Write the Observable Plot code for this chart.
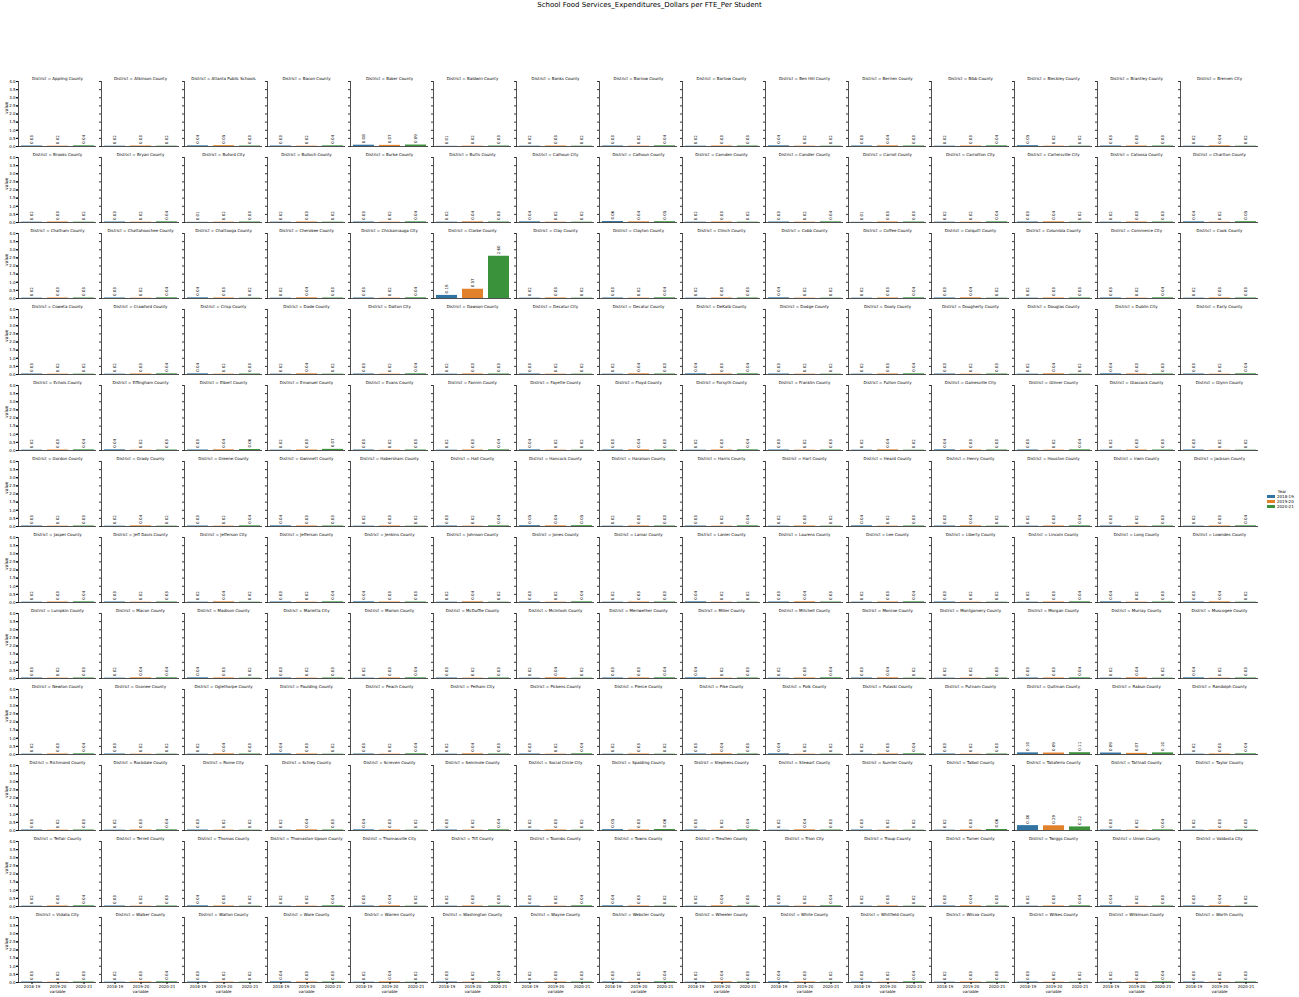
<!DOCTYPE html>
<html><head><meta charset="utf-8">
<script src="https://cdn.jsdelivr.net/npm/d3@7"></script>
<script src="https://cdn.jsdelivr.net/npm/@observablehq/plot@0.6"></script>
<style>
body{margin:0;background:#fff;font-family:"DejaVu Sans",sans-serif;}
#fig{position:relative;width:1299px;height:997px;overflow:hidden;}
#title{position:absolute;top:1px;left:0;width:1299px;text-align:center;font-size:7px;color:#000;}
#chart{position:absolute;left:0;top:0;}
#legend{position:absolute;left:1267px;top:489px;font-size:4px;line-height:5px;color:#000;}
#legend .t{text-align:center;width:30px;}
#legend .r{display:flex;align-items:center;gap:2px;}
#legend .sw{width:8px;height:3px;display:inline-block;}
</style></head><body>
<div id="fig"><div id="chart"></div><div id="title">School Food Services_Expenditures_Dollars per FTE_Per Student</div><div id="legend"></div></div>
<script>
const districts = [
"Appling County","Atkinson County","Atlanta Public Schools","Bacon County","Baker County","Baldwin County","Banks County","Barrow County","Bartow County","Ben Hill County","Berrien County","Bibb County","Bleckley County","Brantley County","Bremen City",
"Brooks County","Bryan County","Buford City","Bulloch County","Burke County","Butts County","Calhoun City","Calhoun County","Camden County","Candler County","Carroll County","Carrollton City","Cartersville City","Catoosa County","Charlton County",
"Chatham County","Chattahoochee County","Chattooga County","Cherokee County","Chickamauga City","Clarke County","Clay County","Clayton County","Clinch County","Cobb County","Coffee County","Colquitt County","Columbia County","Commerce City","Cook County",
"Coweta County","Crawford County","Crisp County","Dade County","Dalton City","Dawson County","Decatur City","Decatur County","DeKalb County","Dodge County","Dooly County","Dougherty County","Douglas County","Dublin City","Early County",
"Echols County","Effingham County","Elbert County","Emanuel County","Evans County","Fannin County","Fayette County","Floyd County","Forsyth County","Franklin County","Fulton County","Gainesville City","Gilmer County","Glascock County","Glynn County",
"Gordon County","Grady County","Greene County","Gwinnett County","Habersham County","Hall County","Hancock County","Haralson County","Harris County","Hart County","Heard County","Henry County","Houston County","Irwin County","Jackson County",
"Jasper County","Jeff Davis County","Jefferson City","Jefferson County","Jenkins County","Johnson County","Jones County","Lamar County","Lanier County","Laurens County","Lee County","Liberty County","Lincoln County","Long County","Lowndes County",
"Lumpkin County","Macon County","Madison County","Marietta City","Marion County","McDuffie County","McIntosh County","Meriwether County","Miller County","Mitchell County","Monroe County","Montgomery County","Morgan County","Murray County","Muscogee County",
"Newton County","Oconee County","Oglethorpe County","Paulding County","Peach County","Pelham City","Pickens County","Pierce County","Pike County","Polk County","Pulaski County","Putnam County","Quitman County","Rabun County","Randolph County",
"Richmond County","Rockdale County","Rome City","Schley County","Screven County","Seminole County","Social Circle City","Spalding County","Stephens County","Stewart County","Sumter County","Talbot County","Taliaferro County","Tattnall County","Taylor County",
"Telfair County","Terrell County","Thomas County","Thomaston-Upson County","Thomasville City","Tift County","Toombs County","Towns County","Treutlen County","Trion City","Troup County","Turner County","Twiggs County","Union County","Valdosta City",
"Vidalia City","Walker County","Walton County","Ware County","Warren County","Washington County","Wayne County","Webster County","Wheeler County","White County","Whitfield County","Wilcox County","Wilkes County","Wilkinson County","Worth County"
];
const years = ["2018-19","2019-20","2020-21"];
const v1819 = [
0.03,0.02,0.04,0.03,0.08,0.01,0.02,0.03,0.02,0.04,0.03,0.02,0.05,0.03,0.02,
0.02,0.03,0.01,0.02,0.03,0.02,0.04,0.06,0.02,0.03,0.01,0.02,0.03,0.02,0.04,
0.02,0.03,0.04,0.02,0.03,0.19,0.02,0.03,0.02,0.04,0.02,0.03,0.02,0.03,0.02,
0.03,0.02,0.04,0.02,0.03,0.02,0.03,0.02,0.04,0.03,0.02,0.03,0.02,0.04,0.03,
0.02,0.04,0.03,0.02,0.03,0.02,0.04,0.03,0.02,0.03,0.02,0.04,0.03,0.02,0.03,
0.03,0.02,0.03,0.04,0.02,0.03,0.05,0.02,0.03,0.02,0.04,0.03,0.02,0.03,0.02,
0.02,0.03,0.02,0.03,0.04,0.02,0.03,0.02,0.04,0.03,0.02,0.03,0.02,0.04,0.03,
0.03,0.02,0.04,0.03,0.02,0.03,0.02,0.03,0.04,0.02,0.03,0.02,0.03,0.02,0.04,
0.02,0.03,0.02,0.04,0.03,0.02,0.03,0.02,0.03,0.04,0.02,0.03,0.10,0.09,0.02,
0.03,0.02,0.03,0.02,0.04,0.03,0.02,0.05,0.03,0.02,0.03,0.02,0.30,0.03,0.02,
0.02,0.03,0.04,0.02,0.03,0.02,0.03,0.04,0.02,0.03,0.02,0.03,0.02,0.04,0.03,
0.03,0.02,0.03,0.04,0.02,0.03,0.02,0.03,0.02,0.04,0.03,0.02,0.03,0.02,0.03
];
const v1920 = [
0.02,0.03,0.05,0.02,0.07,0.02,0.03,0.02,0.03,0.02,0.04,0.03,0.02,0.03,0.04,
0.03,0.02,0.02,0.03,0.02,0.04,0.02,0.04,0.03,0.02,0.03,0.02,0.04,0.03,0.02,
0.03,0.02,0.03,0.04,0.02,0.57,0.03,0.02,0.03,0.02,0.03,0.04,0.03,0.02,0.03,
0.02,0.03,0.02,0.04,0.02,0.03,0.02,0.04,0.03,0.02,0.03,0.02,0.04,0.03,0.02,
0.03,0.02,0.04,0.03,0.02,0.03,0.02,0.04,0.03,0.02,0.04,0.03,0.02,0.03,0.02,
0.02,0.04,0.02,0.03,0.03,0.02,0.04,0.03,0.02,0.03,0.02,0.04,0.03,0.02,0.03,
0.03,0.02,0.04,0.02,0.03,0.04,0.02,0.03,0.02,0.04,0.03,0.02,0.03,0.02,0.04,
0.02,0.04,0.03,0.02,0.03,0.02,0.04,0.03,0.02,0.03,0.04,0.02,0.03,0.04,0.02,
0.03,0.02,0.04,0.03,0.02,0.04,0.02,0.03,0.04,0.02,0.03,0.02,0.09,0.07,0.03,
0.02,0.03,0.02,0.04,0.03,0.02,0.03,0.03,0.02,0.04,0.02,0.03,0.29,0.02,0.03,
0.03,0.02,0.03,0.02,0.04,0.03,0.02,0.03,0.04,0.02,0.03,0.04,0.03,0.02,0.04,
0.02,0.03,0.02,0.03,0.04,0.02,0.03,0.02,0.04,0.03,0.02,0.03,0.02,0.03,0.02
];
const v2021 = [
0.04,0.02,0.03,0.04,0.09,0.03,0.02,0.04,0.03,0.02,0.03,0.04,0.02,0.03,0.02,
0.02,0.04,0.03,0.02,0.04,0.03,0.02,0.05,0.02,0.04,0.03,0.04,0.02,0.03,0.05,
0.03,0.04,0.02,0.03,0.04,2.60,0.02,0.04,0.03,0.02,0.04,0.02,0.03,0.04,0.03,
0.02,0.04,0.03,0.02,0.04,0.03,0.02,0.03,0.04,0.02,0.04,0.03,0.02,0.03,0.04,
0.04,0.03,0.06,0.07,0.03,0.04,0.02,0.03,0.04,0.03,0.02,0.03,0.04,0.03,0.02,
0.03,0.02,0.04,0.03,0.02,0.04,0.05,0.03,0.04,0.02,0.03,0.02,0.04,0.03,0.04,
0.04,0.03,0.02,0.04,0.03,0.02,0.04,0.03,0.02,0.03,0.04,0.02,0.04,0.03,0.02,
0.03,0.04,0.02,0.03,0.04,0.03,0.02,0.04,0.03,0.04,0.02,0.03,0.04,0.02,0.03,
0.04,0.02,0.03,0.02,0.04,0.03,0.04,0.02,0.03,0.02,0.04,0.03,0.11,0.10,0.04,
0.03,0.04,0.02,0.03,0.02,0.04,0.02,0.06,0.04,0.03,0.02,0.06,0.22,0.04,0.03,
0.04,0.03,0.02,0.04,0.02,0.03,0.04,0.02,0.03,0.04,0.02,0.03,0.04,0.03,0.02,
0.03,0.04,0.02,0.03,0.02,0.04,0.03,0.04,0.03,0.02,0.04,0.03,0.02,0.04,0.03
];
const yTicks = [0,0.5,1,1.5,2,2.5,3,3.5,4];
const colors = ["#3274a1","#e1812c","#3a923a"];
const legendTitle = "Year";
const yLabel = "value";
const xLabel = "variable";

const ncol = 15;
const series = [v1819, v1920, v2021];
const rows = [];
districts.forEach((d, i) => {
  series.forEach((arr, k) => rows.push({district: d, year: years[k], value: arr[i], col: i % ncol, row: Math.floor(i / ncol)}));
});
const panels = districts.map((d, i) => ({district: d, col: i % ncol, row: Math.floor(i / ncol)}));
const nrow = Math.ceil(districts.length / ncol);

const chart = Plot.plot({
  width: 1299, height: 997,
  marginLeft: 16, marginRight: 39, marginTop: 79, marginBottom: 13,
  style: {fontFamily: "DejaVu Sans, sans-serif", fontSize: "4px", background: "white", color: "black"},
  fx: {axis: null, domain: d3.range(ncol), paddingInner: 0.06, paddingOuter: 0},
  fy: {axis: null, domain: d3.range(nrow), paddingInner: 0.15, paddingOuter: 0},
  x: {domain: years, paddingInner: 0.2, paddingOuter: 0.1},
  y: {domain: [0, 4]},
  color: {domain: years, range: colors},
  marks: [
    Plot.barY(rows, {fx: "col", fy: "row", x: "year", y: "value", fill: "year"}),
    Plot.text(rows, {fx: "col", fy: "row", x: "year", y: "value", text: d => d.value.toFixed(2), rotate: -90, textAnchor: "start", dy: -2, fontSize: 4, fill: "black"}),
    Plot.ruleY([0], {stroke: "#222", strokeWidth: 0.8}),
    Plot.frame({anchor: "left", stroke: "#222", strokeWidth: 0.8}),
    Plot.axisY(yTicks, {facetAnchor: null, tickSize: 2, tickFormat: () => "", label: null, stroke: "#333"}),
    Plot.axisY(yTicks, {facetAnchor: "left", tickSize: 2, tickPadding: 1, tickFormat: d3.format(".1f"), label: null, fontSize: 4}),
    Plot.axisX({facetAnchor: "bottom", tickSize: 2, tickPadding: 1, label: null, fontSize: 4}),
    Plot.text(panels, {fx: "col", fy: "row", text: d => "District = " + d.district, frameAnchor: "top", dy: -4, fontSize: 4, fill: "black"}),
    Plot.text(panels.filter(p => p.col === 0), {fx: "col", fy: "row", text: () => yLabel, frameAnchor: "left", rotate: -90, dx: -12, fontSize: 4.5, fill: "black"}),
    Plot.text(panels.filter(p => p.row === nrow - 1), {fx: "col", fy: "row", text: () => xLabel, frameAnchor: "bottom", dy: 10, fontSize: 4, fill: "black"})
  ]
});
document.getElementById("chart").appendChild(chart);

const lg = document.getElementById("legend");
lg.innerHTML = `<div class="t">${legendTitle}</div>` + years.map((y, i) => `<div class="r"><span class="sw" style="background:${colors[i]}"></span><span>${y}</span></div>`).join("");
</script>
</body></html>
